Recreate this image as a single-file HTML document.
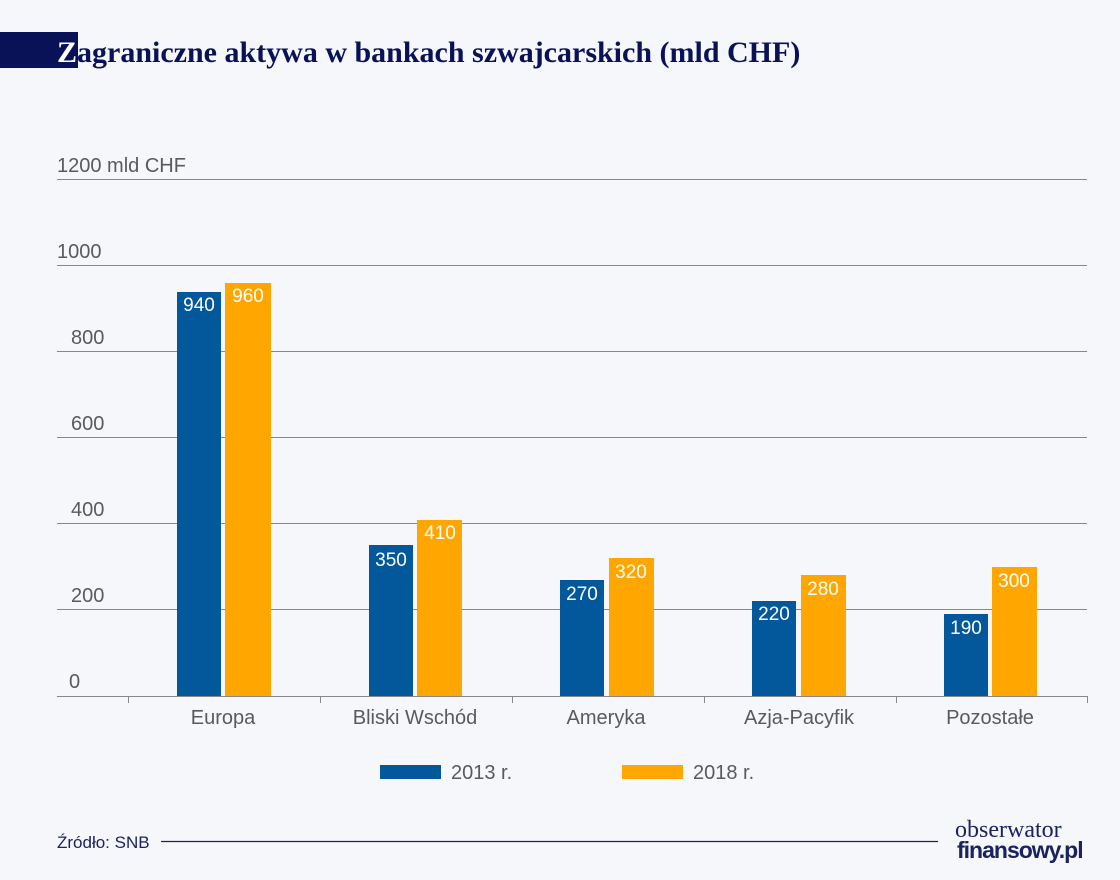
<!DOCTYPE html><html><head><meta charset="utf-8"><style>body{margin:0;background:#f5f7fa}</style></head><body>
<svg width="1120" height="880" xmlns="http://www.w3.org/2000/svg" style="display:block">
<rect width="1120" height="880" fill="#f5f7fa"/>
<rect x="0" y="32" width="78" height="36" fill="#0a1257"/>
<text x="57" y="62" font-family="Liberation Serif" font-size="30" font-weight="bold" fill="#0a1257"><tspan fill="#fff">Z</tspan>agraniczne aktywa w bankach szwajcarskich (mld CHF)</text>
<g stroke="#888" stroke-width="1">
<line x1="57" y1="179.5" x2="1087" y2="179.5"/><line x1="57" y1="265.5" x2="1087" y2="265.5"/><line x1="57" y1="351.5" x2="1087" y2="351.5"/><line x1="57" y1="437.5" x2="1087" y2="437.5"/><line x1="57" y1="523.5" x2="1087" y2="523.5"/><line x1="57" y1="609.5" x2="1087" y2="609.5"/><line x1="57" y1="696.5" x2="1087" y2="696.5"/>
<line x1="128.5" y1="696" x2="128.5" y2="703"/><line x1="320.5" y1="696" x2="320.5" y2="703"/><line x1="512.5" y1="696" x2="512.5" y2="703"/><line x1="704.5" y1="696" x2="704.5" y2="703"/><line x1="896.5" y1="696" x2="896.5" y2="703"/><line x1="1087.5" y1="696" x2="1087.5" y2="703"/>
</g>
<g font-family="Liberation Sans" font-size="20" fill="#5a5a5a">
<text x="57" y="172">1200 mld CHF</text><text x="57" y="258">1000</text><text x="71" y="344">800</text><text x="71" y="430">600</text><text x="71" y="516">400</text><text x="71" y="602">200</text><text x="69" y="688">0</text>
<g text-anchor="middle"><text x="223" y="724">Europa</text><text x="415" y="724">Bliski Wschód</text><text x="606" y="724">Ameryka</text><text x="799" y="724">Azja-Pacyfik</text><text x="990" y="724">Pozostałe</text></g>
<text x="451" y="779">2013 r.</text><text x="693" y="779">2018 r.</text>
</g>
<g fill="#02589b"><rect x="177" y="292" width="44" height="404"/><rect x="369" y="545" width="44" height="151"/><rect x="560" y="580" width="44" height="116"/><rect x="752" y="601" width="44" height="95"/><rect x="944" y="614" width="44" height="82"/><rect x="380" y="765" width="61" height="14"/></g>
<g fill="#ffa600"><rect x="225" y="283" width="46" height="413"/><rect x="417" y="520" width="45" height="176"/><rect x="609" y="558" width="45" height="138"/><rect x="801" y="575" width="45" height="121"/><rect x="992" y="567" width="45" height="129"/><rect x="622" y="765" width="61" height="14"/></g>
<g font-family="Liberation Sans" font-size="19" fill="#fff" text-anchor="middle">
<text x="199" y="311">940</text><text x="248" y="302">960</text>
<text x="391" y="566">350</text><text x="440" y="539">410</text>
<text x="582" y="600">270</text><text x="631" y="578">320</text>
<text x="774" y="620">220</text><text x="823" y="595">280</text>
<text x="966" y="634">190</text><text x="1014" y="587">300</text>
</g>
<text x="57" y="848" font-family="Liberation Sans" font-size="17" fill="#1a2260">Źródło: SNB</text>
<line x1="161" y1="841.5" x2="938" y2="841.5" stroke="#1a2260" stroke-width="1.3"/>
<text x="955" y="837" font-family="Liberation Serif" font-size="24" fill="#1a2260">obserwator</text>
<text x="957" y="858" font-family="Liberation Sans" font-size="23" font-weight="bold" fill="#1a2260" letter-spacing="-1">finansowy.pl</text>
</svg>
</body></html>
